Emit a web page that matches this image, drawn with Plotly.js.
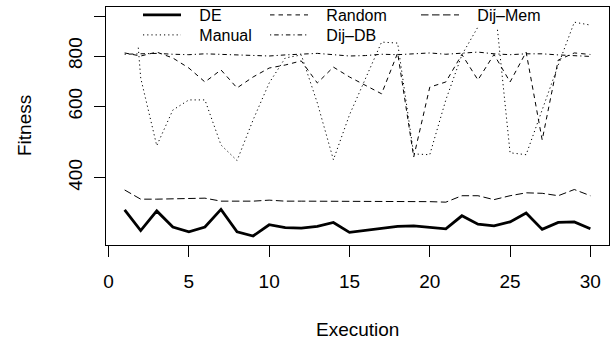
<!DOCTYPE html>
<html>
<head>
<meta charset="utf-8">
<script src="https://cdn.plot.ly/plotly-3.0.1.min.js"></script>
<style>html,body{margin:0;padding:0;background:#fff;overflow:hidden;}#wrap{position:relative;width:616px;height:343px;overflow:hidden;}#chart{position:absolute;left:0;top:-10px;width:616px;height:353px;}</style>
</head>
<body>
<div id="wrap"><div id="chart"></div></div>
<script>
var executions = [1,2,3,4,5,6,7,8,9,10,11,12,13,14,15,16,17,18,19,20,21,22,23,24,25,26,27,28,29,30];
var deValues = [333,296,331,302,294,302,334,294,287,306,301,300,303,310,293,296,300,303,304,302,299,322,307,304,311,327,298,310,311,299];
var randomValues = [814,800,818,791,747,690,739,667,710,747,760,778,686,751,710,678,645,814,450,670,690,807,698,807,690,818,496,782,814,807];
var manualValues = [2230,706,480,588,623,623,482,441,556,686,791,805,612,443,572,706,866,861,458,456,623,805,944,1127,461,456,592,760,970,954];
var dijDBValues = [808,810,812,808,806,810,808,806,803,800,805,808,812,806,800,802,808,806,810,814,808,812,818,810,806,810,810,805,800,798];
var dijMemValues = [373,354,354,355,355,356,350,350,350,352,350,350,350,350,350,350,350,349,349,349,348,361,361,353,361,367,366,361,374,361];
var xTicks = [0,5,10,15,20,25,30];
var yTicks = [400,600,800,1000];
var yTickText = ['400','600','800',''];

var FONT = 'Liberation Sans, Arial, Helvetica, sans-serif';
var PAD = '\u00a0\u00a0\u00a0';
var SHIFT = 10; // the plot div starts 10px above the visible page
// plot area in page pixels
var PL = 106, PR = 609, PT = 7, PB = 245;
function px2x(p) { return (p - PL) / (PR - PL); }
function px2y(p) { return (PB - p) / (PB - PT); }

function tr(name, y, width, dash, legend) {
  return {x: executions, y: y, name: PAD + name, type: 'scatter', mode: 'lines',
    line: {color: '#000', width: width, dash: dash}, legend: legend};
}
var data = [
  tr('DE', deValues, 2.8, 'solid', 'legend'),
  tr('Manual', manualValues, 1, '1.2px,3px', 'legend2'),
  tr('Random', randomValues, 1, '4.5px,4px', 'legend3'),
  tr('Dij\u2013DB', dijDBValues, 1, '1.2px,3px,4.5px,3px', 'legend4'),
  tr('Dij\u2013Mem', dijMemValues, 1, '7.5px,3.5px', 'legend5')
];
function leg(xpx, ypx) {
  return {x: px2x(xpx - 5), xref: 'paper', xanchor: 'left',
    y: px2y(ypx), yref: 'paper', yanchor: 'middle',
    bgcolor: 'rgba(0,0,0,0)', borderwidth: 0, font: {family: FONT, size: 16, color: '#000'},
    itemwidth: 38, tracegroupgap: 0};
}
// white legend backgrounds (two legend boxes without visible border)
function box(x0, x1, y0, y1) {
  return {type: 'rect', xref: 'paper', yref: 'paper', x0: px2x(x0), x1: px2x(x1), y0: px2y(y1), y1: px2y(y0),
    fillcolor: '#fff', line: {width: 0}, layer: 'above'};
}
var layout = {
  width: 616, height: 343 + SHIFT,
  margin: {l: PL, r: 616 - PR, t: PT + SHIFT, b: 343 - PB},
  paper_bgcolor: '#fff', plot_bgcolor: '#fff',
  font: {family: FONT, size: 19, color: '#000'},
  showlegend: true,
  legend: leg(143, 15), legend2: leg(143, 35), legend3: leg(270, 15), legend4: leg(270, 35), legend5: leg(421, 15),
  shapes: [box(131, 380, 9.5, 45), box(409, 537, 9.5, 27)],
  xaxis: {range: [-0.16, 31.16], tickvals: xTicks, ticktext: xTicks.map(String), ticks: 'outside', ticklen: 11,
    tickwidth: 1, tickcolor: '#000', showline: true, linecolor: '#000', linewidth: 1, mirror: true,
    showgrid: false, zeroline: false, tickangle: 0, ticklabelstandoff: 8, tickfont: {size: 19}, automargin: false},
  yaxis: {type: 'log', range: [2.43561, 3.02429], tickvals: yTicks, ticktext: yTickText, ticks: 'outside', ticklen: 11,
    tickwidth: 1, tickcolor: '#000', showline: true, linecolor: '#000', linewidth: 1, mirror: true,
    showgrid: false, zeroline: false, tickangle: -90, ticklabelstandoff: 4, tickfont: {size: 19}, automargin: false},
  annotations: [
    {text: 'Execution', xref: 'paper', yref: 'paper', x: 0.5, y: 0, yanchor: 'middle', xanchor: 'center', yshift: -84, showarrow: false, font: {size: 19}},
    {text: 'Fitness', xref: 'paper', yref: 'paper', x: 0, y: 0.5, xanchor: 'center', yanchor: 'middle', xshift: -82, textangle: -90, showarrow: false, font: {size: 19}}
  ]
};
Plotly.newPlot('chart', data, layout, {staticPlot: true, displayModeBar: false});
</script>
</body>
</html>
